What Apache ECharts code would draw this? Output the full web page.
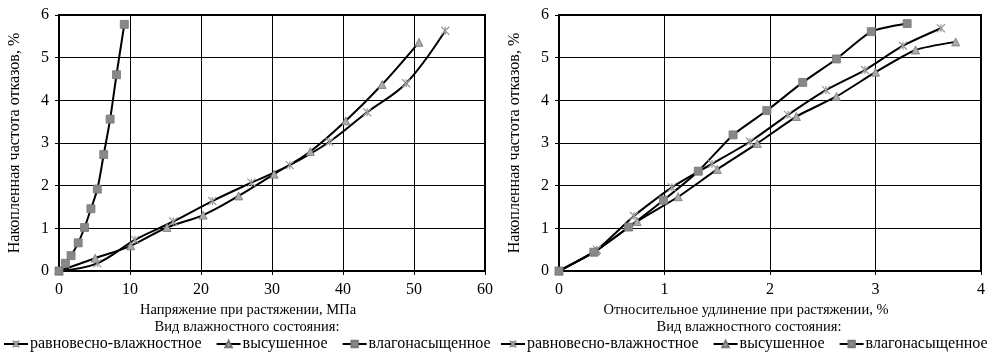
<!DOCTYPE html>
<html>
<head>
<meta charset="utf-8">
<script src="https://cdn.jsdelivr.net/npm/echarts@6/dist/echarts.min.js"></script>
<style>
  html, body { margin: 0; padding: 0; background: #fff; }
  #chart { width: 988px; height: 353px; }
</style>
</head>
<body>
<div id="chart"></div>
<script>
// Left chart: stress, MPa
var stressEquil = [[0, 0], [5.4, 0.18], [10.7, 0.73], [16.1, 1.16], [21.6, 1.64], [27.1, 2.07], [32.5, 2.48], [38.1, 3.03], [43.4, 3.72], [48.9, 4.4], [54.4, 5.63]];
var stressDried = [[0, 0], [5.1, 0.3], [10.1, 0.59], [15.2, 1.02], [20.3, 1.31], [25.3, 1.76], [30.3, 2.27], [35.4, 2.8], [40.4, 3.52], [45.5, 4.37], [50.7, 5.36]];
var stressWet = [[0, 0], [0.9, 0.18], [1.7, 0.36], [2.7, 0.66], [3.6, 1.02], [4.5, 1.46], [5.4, 1.92], [6.3, 2.73], [7.2, 3.56], [8.1, 4.6], [9.2, 5.78]];

// Right chart: elongation, %
var elongEquil = [[0, 0], [0.36, 0.5], [0.71, 1.29], [1.07, 1.96], [1.45, 2.51], [1.81, 3.03], [2.17, 3.66], [2.53, 4.24], [2.9, 4.71], [3.26, 5.28], [3.62, 5.69]];
var elongDried = [[0, 0], [0.35, 0.47], [0.74, 1.16], [1.13, 1.74], [1.5, 2.38], [1.88, 2.99], [2.25, 3.62], [2.63, 4.09], [3.0, 4.66], [3.38, 5.18], [3.76, 5.37]];
var elongWet = [[0, 0], [0.33, 0.44], [0.66, 1.03], [0.99, 1.66], [1.32, 2.34], [1.65, 3.19], [1.97, 3.76], [2.31, 4.42], [2.63, 4.97], [2.96, 5.61], [3.3, 5.8]];

var seriesNames = ['равновесно-влажностное', 'высушенное', 'влагонасыщенное'];
var yName = 'Накопленная частота отказов, %';
var xNames = ['Напряжение при растяжении, МПа', 'Относительное удлинение при растяжении, %'];
var legendTitle = 'Вид влажностного состояния:';

var font = '"Liberation Serif", "Times New Roman", serif';
var crossSymbol = 'path://M0,0L10,10M10,0L0,10M5,0L5,10';

var chart = echarts.init(document.getElementById('chart'));

function makeSeries(name, data, gridIdx, symbol, smooth) {
    return {
        name: name,
        type: 'line',
        xAxisIndex: gridIdx,
        yAxisIndex: gridIdx,
        data: data,
        smooth: smooth,
        symbol: symbol,
        symbolSize: 8,
        showAllSymbol: true,
        lineStyle: { color: '#000', width: 2 },
        itemStyle: symbol === crossSymbol
            ? { color: '#aaa', borderColor: '#999', borderWidth: 1.2 }
            : { color: symbol === 'rect' ? '#888' : '#aaa', borderColor: '#777', borderWidth: 0.8 },
        emphasis: { disabled: true },
        z: 3
    };
}

function xAxis(gridIdx, max, interval, name) {
    return {
        gridIndex: gridIdx,
        type: 'value',
        min: 0, max: max, interval: interval,
        name: name,
        nameLocation: 'middle',
        nameGap: 32,
        // shift the name left so it sits centred under the whole panel
        nameTextStyle: { fontFamily: font, fontSize: 14.5, color: '#000', padding: [0, 48, 0, 0] },
        axisLabel: { fontFamily: font, fontSize: 16, color: '#000', margin: 11 },
        axisLine: { lineStyle: { color: '#000', width: 2 } },
        axisTick: { show: true, length: 4, lineStyle: { color: '#000' } },
        splitLine: { show: true, lineStyle: { color: '#000', width: 1 } }
    };
}

function yAxis(gridIdx) {
    return {
        gridIndex: gridIdx,
        type: 'value',
        min: 0, max: 6, interval: 1,
        name: yName,
        nameLocation: 'middle',
        nameGap: 36,
        nameTextStyle: { fontFamily: font, fontSize: 16, color: '#000' },
        axisLabel: { fontFamily: font, fontSize: 16, color: '#000', margin: 10 },
        axisLine: { show: true, lineStyle: { color: '#000', width: 2 } },
        axisTick: { show: true, length: 4, lineStyle: { color: '#000' } },
        splitLine: { show: true, lineStyle: { color: '#000', width: 1 } }
    };
}

function legend(left) {
    return {
        data: seriesNames,
        left: left,
        width: 600,
        top: 336,
        itemWidth: 24,
        itemHeight: 8,
        itemGap: 14,
        padding: 0,
        orient: 'horizontal',
        selectedMode: false,
        textStyle: { fontFamily: font, fontSize: 16, color: '#000', padding: [0, 0, 0, -3] }
    };
}

var option = {
    animation: false,
    backgroundColor: '#fff',
    grid: [
        { left: 59, right: 503, top: 15, bottom: 82, show: true, borderColor: '#000', borderWidth: 2, backgroundColor: 'transparent' },
        { left: 559, right: 3, top: 15, bottom: 82, show: true, borderColor: '#000', borderWidth: 2, backgroundColor: 'transparent' }
    ],
    title: [
        { text: legendTitle, left: 247, top: 320, textAlign: 'center', padding: 0, textStyle: { fontFamily: font, fontSize: 14.5, fontWeight: 'normal', color: '#000' } },
        { text: legendTitle, left: 749, top: 320, textAlign: 'center', padding: 0, textStyle: { fontFamily: font, fontSize: 14.5, fontWeight: 'normal', color: '#000' } }
    ],
    xAxis: [xAxis(0, 60, 10, xNames[0]), xAxis(1, 4, 1, xNames[1])],
    yAxis: [yAxis(0), yAxis(1)],
    legend: [legend(3), legend(500)],
    series: [
        makeSeries(seriesNames[0], stressEquil, 0, crossSymbol, 0.35),
        makeSeries(seriesNames[1], stressDried, 0, 'triangle', 0.35),
        makeSeries(seriesNames[2], stressWet, 0, 'rect', 0.35),
        makeSeries(seriesNames[0], elongEquil, 1, crossSymbol, 0.2),
        makeSeries(seriesNames[1], elongDried, 1, 'triangle', 0.2),
        makeSeries(seriesNames[2], elongWet, 1, 'rect', 0.2)
    ]
};

chart.setOption(option);
</script>
</body>
</html>
